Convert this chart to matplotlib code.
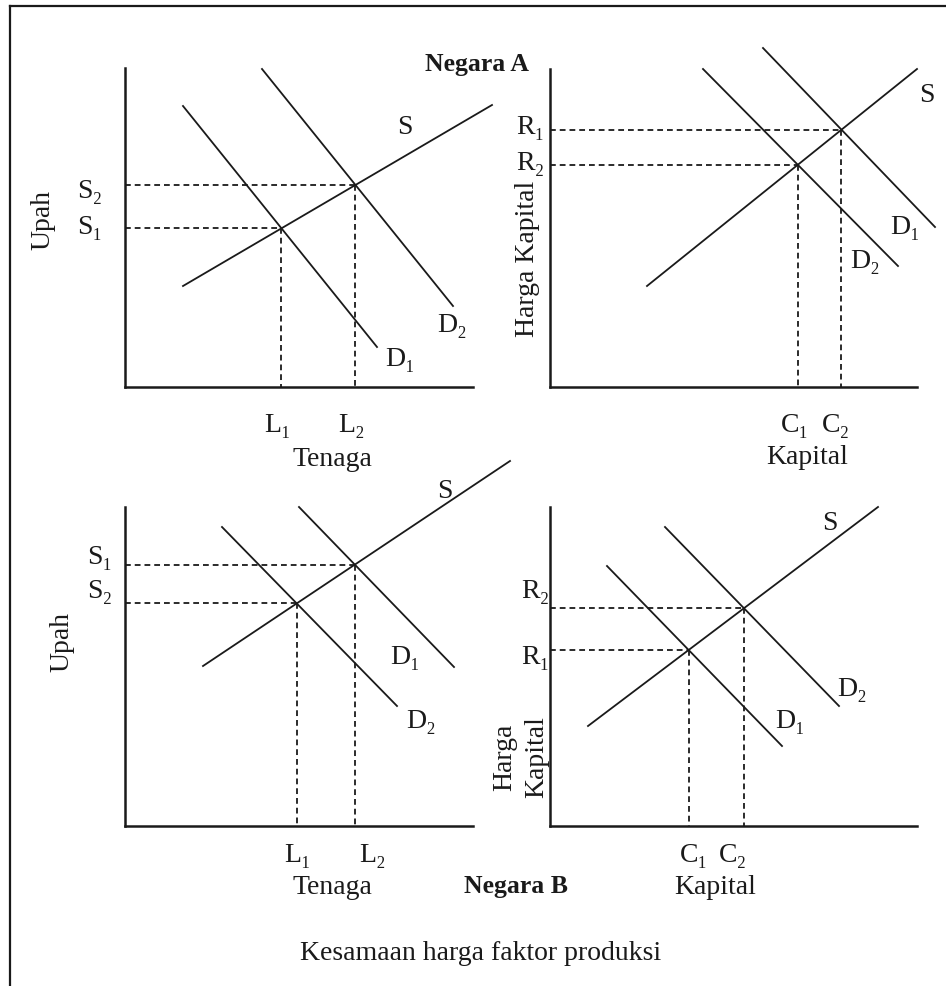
import matplotlib
matplotlib.use("Agg")
import matplotlib.pyplot as plt
import numpy as np

plt.rcParams['font.family'] = ['Liberation Serif', 'DejaVu Serif']

INK = '#1a1a1a'

# ---- Negara A, tenaga kerja (kiri atas) ----
tl_origin = (125, 388)
tl_top, tl_right = 69, 473
tl_S = [(183, 287), (492, 106)]
tl_D1 = [(183, 107), (377, 348)]
tl_D2 = [(262, 70), (453, 307)]

# ---- Negara A, kapital (kanan atas) ----
tr_origin = (550, 388)
tr_top, tr_right = 70, 917
tr_S = [(647, 287), (917, 70)]
tr_D1 = [(763, 49), (935, 228)]
tr_D2 = [(703, 70), (898, 267)]

# ---- Negara B, tenaga kerja (kiri bawah) ----
bl_origin = (125, 827)
bl_top, bl_right = 508, 473
bl_S = [(203, 667), (510, 462)]
bl_D1 = [(299, 508), (454, 668)]
bl_D2 = [(222, 528), (397, 707)]

# ---- Negara B, kapital (kanan bawah) ----
br_origin = (550, 827)
br_top, br_right = 508, 917
br_S = [(588, 727), (878, 508)]
br_D1 = [(607, 567), (782, 747)]
br_D2 = [(665, 528), (839, 707)]


def intersect(a, b):
    (x1, y1), (x2, y2) = a
    (x3, y3), (x4, y4) = b
    A = np.array([[x2 - x1, -(x4 - x3)], [y2 - y1, -(y4 - y3)]])
    t = np.linalg.solve(A, [x3 - x1, y3 - y1])
    return x1 + t[0] * (x2 - x1), y1 + t[0] * (y2 - y1)


def seg(ax, pts, **kw):
    ax.plot([p[0] for p in pts], [p[1] for p in pts], color=INK, **kw)


def panel(ax, origin, top, right, S, D1, D2):
    ox, oy = origin
    seg(ax, [(ox, top), (ox, oy)], lw=1.8)
    seg(ax, [(ox, oy), (right, oy)], lw=1.8)
    for line in (S, D1, D2):
        seg(ax, line, lw=1.3)
    for d in (D1, D2):
        px, py = intersect(S, d)
        seg(ax, [(ox, py), (px, py)], lw=1.3, ls=(0, (3.2, 2.2)))
        seg(ax, [(px, py), (px, oy)], lw=1.3, ls=(0, (3.2, 2.2)))


fig = plt.figure(figsize=(9.46, 9.87), dpi=100)
ax = fig.add_axes([0, 0, 1, 1])
ax.set_xlim(0, 946)
ax.set_ylim(987, 0)
ax.axis('off')

# bingkai
seg(ax, [(10, 7), (946, 7)], lw=1.6)
seg(ax, [(10, 7), (10, 987)], lw=1.6)

panel(ax, tl_origin, tl_top, tl_right, tl_S, tl_D1, tl_D2)
panel(ax, tr_origin, tr_top, tr_right, tr_S, tr_D1, tr_D2)
panel(ax, bl_origin, bl_top, bl_right, bl_S, bl_D1, bl_D2)
panel(ax, br_origin, br_top, br_right, br_S, br_D1, br_D2)

fs = 20
def txt(x, y, s, **kw):
    kw.setdefault('fontsize', fs)
    ax.text(x, y, s, ha='center', va='center', color=INK, **kw)

# kiri atas
txt(43, 220, 'Upah', rotation=90)
txt(90, 191, 'S₂')
txt(90, 228, 'S₁')
txt(405, 128, 'S')
txt(452, 325, 'D₂')
txt(400, 360, 'D₁')
txt(278, 425, 'L₁')
txt(352, 425, 'L₂')
txt(332, 459, 'Tenaga')
txt(477, 65, 'Negara A', fontweight='bold', fontsize=18.5)

# kanan atas
txt(527, 259, 'Harga Kapital', rotation=90)
txt(530, 128, 'R₁')
txt(530, 163, 'R₂')
txt(927, 95, 'S')
txt(905, 228, 'D₁')
txt(865, 261, 'D₂')
txt(795, 425, 'C₁')
txt(836, 425, 'C₂')
txt(807, 457, 'Kapital')

# kiri bawah
txt(62, 642, 'Upah', rotation=90)
txt(100, 558, 'S₁')
txt(100, 592, 'S₂')
txt(445, 492, 'S')
txt(405, 657, 'D₁')
txt(421, 722, 'D₂')
txt(298, 856, 'L₁')
txt(373, 856, 'L₂')
txt(332, 887, 'Tenaga')
txt(516, 887, 'Negara B', fontweight='bold', fontsize=18.5)

# kanan bawah
txt(505, 757, 'Harga', rotation=90)
txt(537, 757, 'Kapital', rotation=90)
txt(535, 592, 'R₂')
txt(535, 657, 'R₁')
txt(830, 523, 'S')
txt(852, 690, 'D₂')
txt(790, 722, 'D₁')
txt(694, 855, 'C₁')
txt(733, 855, 'C₂')
txt(715, 887, 'Kapital')

txt(481, 953, 'Kesamaan harga faktor produksi')

fig.savefig('out.png', dpi=100, facecolor='white')
